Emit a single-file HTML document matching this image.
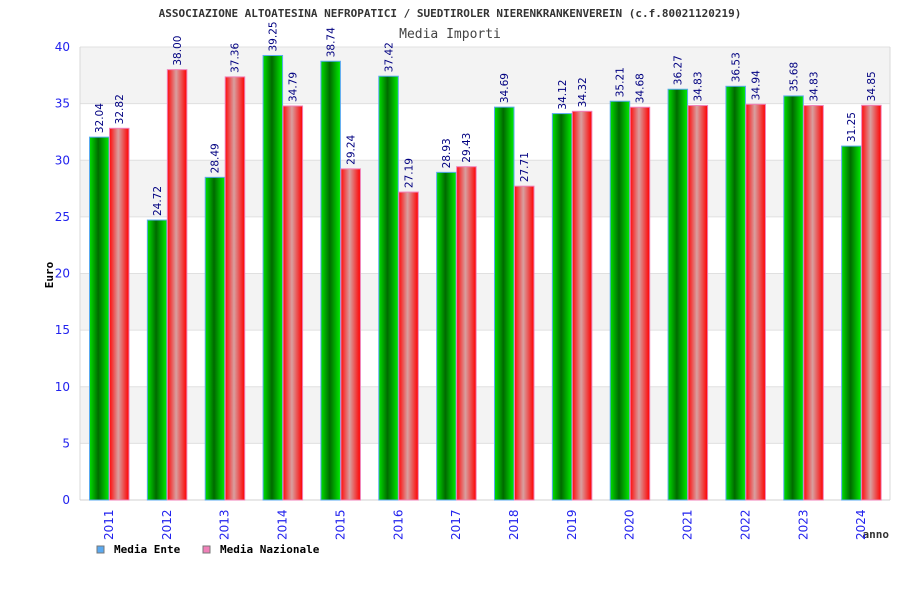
<!DOCTYPE html>
<html><head><meta charset="utf-8"><style>
body{margin:0;background:#fff}
svg{display:block;font-family:"DejaVu Sans Mono","Liberation Mono",monospace}
.sans{font-family:"DejaVu Sans","Liberation Sans",sans-serif}
</style></head><body>
<svg id="chart" width="900" height="600" viewBox="0 0 900 600">
<defs>
<linearGradient id="gG" x1="0" x2="1" y1="0" y2="0"><stop offset="0" stop-color="#00e000"/><stop offset="0.45" stop-color="#006a00"/><stop offset="1" stop-color="#00ee00"/></linearGradient>
<linearGradient id="gR" x1="0" x2="1" y1="0" y2="0"><stop offset="0" stop-color="#ff0a0a"/><stop offset="0.45" stop-color="#d8a0a0"/><stop offset="1" stop-color="#ff0000"/></linearGradient>
</defs>
<text x="450" y="17" text-anchor="middle" font-size="11" font-weight="bold" fill="#333">ASSOCIAZIONE ALTOATESINA NEFROPATICI / SUEDTIROLER NIERENKRANKENVEREIN (c.f.80021120219)</text>
<text x="450" y="38" text-anchor="middle" font-size="13" fill="#444">Media Importi</text>
<text transform="translate(53,275) rotate(-90)" text-anchor="middle" font-size="11" font-weight="bold" fill="#000">Euro</text>
<text x="889" y="538" text-anchor="end" font-size="11" font-weight="bold" fill="#333">anno</text>
<g id="grid"></g><g id="bars"></g><g id="labels"></g>
<g>
<rect x="97" y="546" width="7" height="7" fill="#5aa9f0" stroke="#777"/>
<text x="114" y="553" font-size="11" font-weight="bold">Media Ente</text>
<rect x="203" y="546" width="7" height="7" fill="#f080b8" stroke="#777"/>
<text x="220" y="553" font-size="11" font-weight="bold">Media Nazionale</text>
</g>
</svg>
<script>
const years=["2011","2012","2013","2014","2015","2016","2017","2018","2019","2020","2021","2022","2023","2024"];
const ente=[32.04,24.72,28.49,39.25,38.74,37.42,28.93,34.69,34.12,35.21,36.27,36.53,35.68,31.25];
const nazionale=[32.82,38.00,37.36,34.79,29.24,27.19,29.43,27.71,34.32,34.68,34.83,34.94,34.83,34.85];
const yTicks=[0,5,10,15,20,25,30,35,40];
const NS="http://www.w3.org/2000/svg";
const L=80,R=890,T=47,B=500,yMax=40;
const y=v=>B-(v/yMax)*(B-T);
const gw=(R-L)/years.length;
const x=i=>L+i*gw;
function mk(tag,attrs,parent){const e=document.createElementNS(NS,tag);for(const k in attrs)e.setAttribute(k,attrs[k]);parent.appendChild(e);return e;}
const grid=document.getElementById('grid'),bars=document.getElementById('bars'),labels=document.getElementById('labels');
for(let k=0;k<yTicks.length-1;k++){
  if(k%2===1){const b=mk('rect',{x:L,y:y(yTicks[k+1]),width:R-L,height:y(yTicks[k])-y(yTicks[k+1]),fill:'#f3f3f3'},grid);
  
  }
}
yTicks.forEach(t=>{
  const l=mk('line',{x1:L,x2:R,y1:y(t),y2:y(t),stroke:'#e0e0e0'},grid);
  
  
  const tx=mk('text',{x:70,y:y(t)+4,'text-anchor':'end','font-size':'12',fill:'#2222ee',class:'sans'},grid);
  
  
  tx.textContent=t;
});
mk('line',{x1:L,x2:L,y1:T,y2:B,stroke:'#d8d8d8'},grid);
mk('line',{x1:R,x2:R,y1:T,y2:B,stroke:'#d8d8d8'},grid);
mk('line',{x1:L,x2:R,y1:B,y2:B,stroke:'#d0d0d0'},grid);
function bar(v,bx,fill,stroke,name){
  const r=mk('rect',{x:bx+0.5,y:y(v),width:19.5,height:B-y(v),fill:fill,stroke:stroke,'stroke-width':1},bars);
  
  
  const t=mk('text',{transform:`translate(${bx+14},${y(v)-4}) rotate(-90)`,'font-size':'10.5',fill:'#000080',class:'sans'},labels);
  
  
  t.textContent=v.toFixed(2);
}
years.forEach((yr,i)=>{
  bar(ente[i],x(i)+9,'url(#gG)','#5aa9f0','bar-ente-'+yr);
  bar(nazionale[i],x(i)+29,'url(#gR)','#f080b8','bar-nazionale-'+yr);
  const t=mk('text',{transform:`translate(${x(i)+33},${540}) rotate(-90)`,'font-size':'12',fill:'#2222ee',class:'sans'},labels);
  
  
  t.textContent=yr;
});
</script>
</body></html>
